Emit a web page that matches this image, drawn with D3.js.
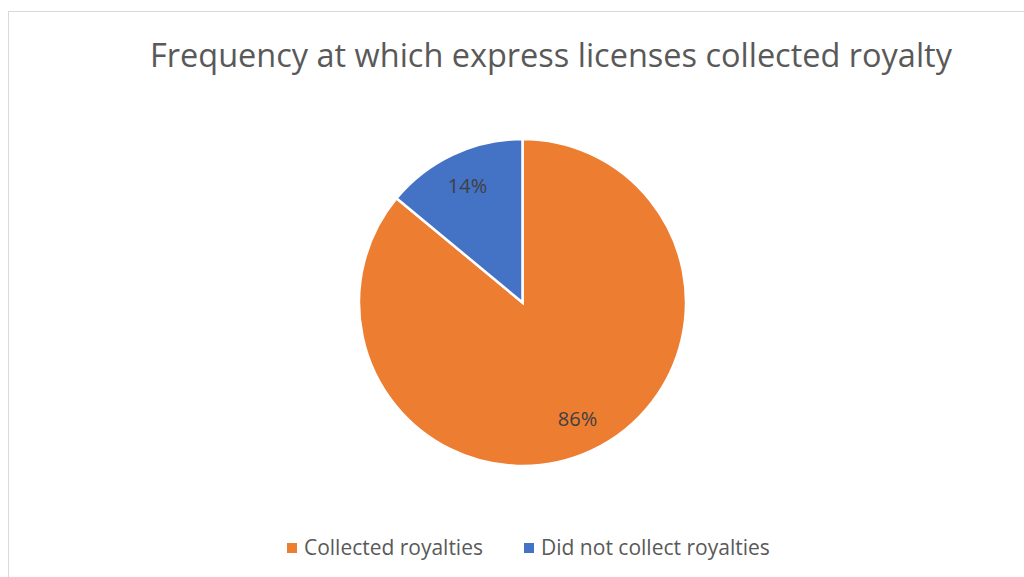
<!DOCTYPE html>
<html>
<head>
<meta charset="utf-8">
<script src="https://cdn.jsdelivr.net/npm/d3@7"></script>
<style>
  body { margin: 0; background: #fff; }
  svg { display: block; font-family: "Open Sans", "Noto Sans", sans-serif; }
</style>
</head>
<body>
<svg id="chart" width="1024" height="577"></svg>
<script>
// chart data
var categories = ["Collected royalties", "Did not collect royalties"];
var values = [86, 14];
var colors = ["#ED7D31", "#4472C4"];
var title = "Frequency at which express licenses collected royalty";

var svg = d3.select("#chart");

// chart area border (runs off the window right and bottom)
svg.append("rect")
	.attr("x", 8.5).attr("y", 11.5)
	.attr("width", 1100).attr("height", 700)
	.attr("fill", "none")
	.attr("stroke", "#d9d9d9");

// fit text to a target width
function fit(sel, w) {
	var len = sel.node().getComputedTextLength();
	var fs = parseFloat(sel.attr("font-size"));
	sel.attr("font-size", fs * w / len);
}

var t = svg.append("text")
	.attr("x", 551).attr("y", 67)
	.attr("text-anchor", "middle")
	.attr("font-size", 31)
	.attr("fill", "#595959")
	.text(title);
fit(t, 802);

var cx = 522.5, cy = 302.5, r = 163.5;
var data = categories.map(function(c, i) { return {name: c, value: values[i], color: colors[i]}; });

var pie = d3.pie().sort(null).value(function(d) { return d.value; });
var arc = d3.arc().innerRadius(0).outerRadius(r);
var labelArc = d3.arc().innerRadius(r * 0.79).outerRadius(r * 0.79);

var g = svg.append("g").attr("transform", "translate(" + cx + "," + cy + ")");
var arcs = pie(data);

g.selectAll("path").data(arcs).enter().append("path")
	.attr("d", arc)
	.attr("fill", function(d) { return d.data.color; })
	.attr("stroke", "#fff")
	.attr("stroke-width", 2.5);

var total = d3.sum(values);
g.selectAll("text.lbl").data(arcs).enter().append("text")
	.attr("class", "lbl")
	.attr("transform", function(d) { return "translate(" + labelArc.centroid(d) + ")"; })
	.attr("text-anchor", "middle")
	.attr("dy", "0.35em")
	.attr("font-size", 20)
	.attr("fill", "#404040")
	.text(function(d) { return Math.round(d.data.value / total * 100) + "%"; });

// legend
var legX = [287, 524];
var legW = [179, 229];
var leg = svg.selectAll("g.leg").data(data).enter().append("g")
	.attr("class", "leg")
	.attr("transform", function(d, i) { return "translate(" + legX[i] + ",548)"; });
leg.append("rect")
	.attr("x", 0).attr("y", -5)
	.attr("width", 10).attr("height", 10)
	.attr("fill", function(d) { return d.color; });
leg.append("text")
	.attr("x", 17).attr("y", 7)
	.attr("font-size", 18)
	.attr("fill", "#595959")
	.text(function(d) { return d.name; })
	.each(function(d, i) { fit(d3.select(this), legW[i]); });
</script>
</body>
</html>
